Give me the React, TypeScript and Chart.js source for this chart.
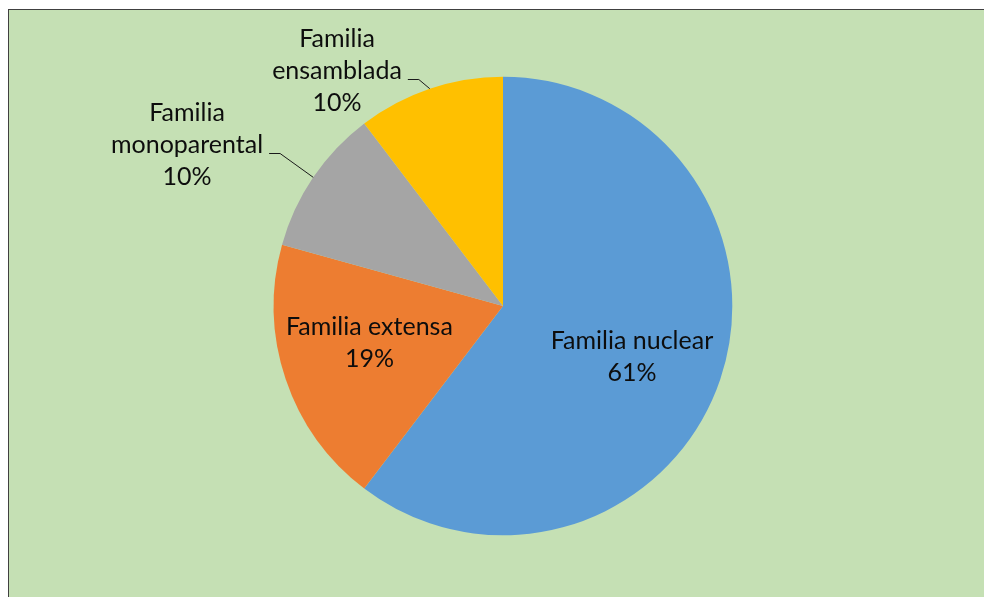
import React, { useEffect, useRef } from "react";
import { Chart, registerables } from "chart.js";

Chart.register(...registerables);

// ---- data ----
const categories = ["Familia nuclear", "Familia extensa", "Familia monoparental", "Familia ensamblada"];
const labelLines = [["Familia nuclear"], ["Familia extensa"], ["Familia", "monoparental"], ["Familia", "ensamblada"]];
const values = [35, 11, 6, 6];
const percentLabels = ["61%", "19%", "10%", "10%"];
const colors = ["#5B9BD5", "#ED7D31", "#A5A5A5", "#FFC000"];

// ---- label layout (relative to pie radius) ----
const labelPlace = [
  { inside: true, r: 0.605, rot: 3, dx: 0, dy: 0 },
  { inside: true, r: 0.605, rot: 3, dx: 0, dy: 0 },
  { inside: false, r: 0, rot: 0, dx: -1.378, dy: -0.702 },
  { inside: false, r: 0, rot: 0, dx: -0.724, dy: -1.025 },
];

const FONT_SIZE = 25;
const LINE_H = 32;
const FONT = `${FONT_SIZE}px Lato, "Noto Sans", sans-serif`;

const labelPlugin = {
  id: "pieLabels",
  afterDatasetsDraw(chart: any) {
    const ctx = chart.ctx as CanvasRenderingContext2D;
    const meta = chart.getDatasetMeta(0);
    ctx.save();
    ctx.font = FONT;
    ctx.fillStyle = "#0d0d0d";
    ctx.strokeStyle = "#1a1a1a";
    ctx.lineWidth = 1;
    ctx.textAlign = "center";
    ctx.textBaseline = "middle";
    meta.data.forEach((arc: any, i: number) => {
      const { x, y, startAngle, endAngle, outerRadius } = arc.getProps(
        ["x", "y", "startAngle", "endAngle", "outerRadius"],
        true
      );
      const mid = (startAngle + endAngle) / 2;
      const lines = [...labelLines[i], percentLabels[i]];
      const place = labelPlace[i];
      let cx: number, cy: number;
      if (place.inside) {
        const a = mid + (place.rot * Math.PI) / 180;
        cx = x + Math.cos(a) * outerRadius * place.r;
        cy = y + Math.sin(a) * outerRadius * place.r;
      } else {
        cx = x + place.dx * outerRadius;
        cy = y + place.dy * outerRadius;
      }
      const n = lines.length;
      lines.forEach((t, k) => ctx.fillText(t, cx, cy + (k - (n - 1) / 2) * LINE_H));
      if (!place.inside) {
        const w = ctx.measureText(lines[1]).width;
        const x1 = cx + w / 2 + 6;
        const yl = Math.round(cy + 8) + 0.5;
        const px = x + Math.cos(mid) * outerRadius;
        const py = y + Math.sin(mid) * outerRadius;
        ctx.beginPath();
        ctx.moveTo(x1, yl);
        ctx.lineTo(x1 + 11, yl);
        ctx.lineTo(px, py);
        ctx.stroke();
      }
    });
    ctx.restore();
  },
};

export default function App() {
  const canvasRef = useRef<HTMLCanvasElement | null>(null);

  useEffect(() => {
    if (!canvasRef.current) return;
    const chart = new Chart(canvasRef.current, {
      type: "pie",
      data: {
        labels: categories,
        datasets: [
          {
            data: values,
            backgroundColor: colors,
            borderWidth: 0,
          },
        ],
      },
      options: {
        animation: false,
        responsive: true,
        maintainAspectRatio: false,
        layout: {
          padding: { left: 273.7, right: 251.7, top: 76.7, bottom: 61.7 },
        },
        plugins: {
          legend: { display: false },
          tooltip: { enabled: false },
        },
      },
      plugins: [labelPlugin],
    });
    return () => chart.destroy();
  }, []);

  return (
    <>
      <div
        style={{
          position: "fixed",
          left: 8,
          top: 9,
          right: 0,
          bottom: 0,
          background: "#C5E0B4",
          borderTop: "1px solid #404040",
          borderLeft: "1px solid #404040",
          boxSizing: "border-box",
        }}
      />
      <div style={{ position: "fixed", left: 0, top: 0, width: 984, height: 597 }}>
        <canvas ref={canvasRef} />
      </div>
    </>
  );
}
